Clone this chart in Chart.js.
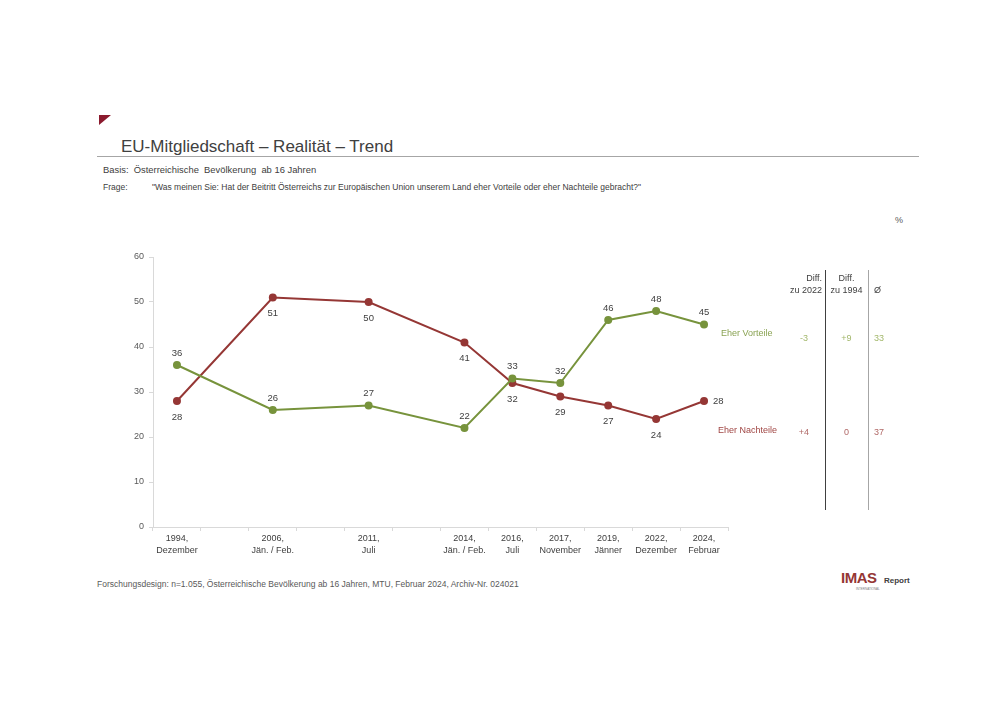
<!DOCTYPE html>
<html lang="de">
<head>
<meta charset="utf-8">
<title>EU-Mitgliedschaft – Realität – Trend</title>
<script src="https://cdn.jsdelivr.net/npm/chart.js@4.4.1/dist/chart.umd.min.js"></script>
<style>
  body { margin: 0; background: #fff; font-family: "Liberation Sans", Arial, sans-serif; color: #404040; }
  .page { position: relative; width: 1000px; height: 707px; overflow: hidden; }
  .abs { position: absolute; white-space: nowrap; }
  #chartBox { position: absolute; left: 100px; top: 241px; width: 640px; height: 329px; }
</style>
</head>
<body>
<div class="page">
  <!-- header -->
  <div class="abs" style="left:99px;top:115px;width:0;height:0;border-top:10px solid #8b1a2e;border-right:12px solid transparent;"></div>
  <div class="abs" style="left:121px;top:137px;font-size:17px;color:#404040;">EU-Mitgliedschaft – Realität – Trend</div>
  <div class="abs" style="left:97px;top:156px;width:822px;height:1px;background:#a6a6a6;"></div>
  <div class="abs" style="left:103px;top:164px;font-size:9.4px;color:#404040;">Basis:&nbsp; Österreichische&nbsp; Bevölkerung&nbsp; ab 16 Jahren</div>
  <div class="abs" style="left:103px;top:182px;font-size:8.5px;color:#404040;">Frage:</div>
  <div class="abs" style="left:152px;top:182px;font-size:8.5px;color:#404040;">"Was meinen Sie: Hat der Beitritt Österreichs zur Europäischen Union unserem Land eher Vorteile oder eher Nachteile gebracht?"</div>
  <div class="abs" style="left:895px;top:215px;font-size:9px;color:#595959;">%</div>

  <div id="chartBox"><canvas id="trendChart"></canvas></div>

  <!-- series names -->
  <div class="abs" style="left:721px;top:328px;font-size:9px;color:#8aa353;">Eher Vorteile</div>
  <div class="abs" style="left:718px;top:425px;font-size:9px;color:#a04644;">Eher Nachteile</div>

  <!-- side table -->
  <div class="abs" style="left:825px;top:270px;width:1px;height:240px;background:#404040;"></div>
  <div class="abs" style="left:868px;top:270px;width:1px;height:240px;background:#a6a6a6;"></div>
  <div id="sideTable"></div>

  <!-- footer -->
  <div class="abs" style="left:97px;top:579px;font-size:8.5px;color:#595959;">Forschungsdesign: n=1.055, Österreichische Bevölkerung ab 16 Jahren, MTU, Februar 2024, Archiv-Nr. 024021</div>
  <div class="abs" style="left:841px;top:569px;font-size:15px;font-weight:bold;color:#953735;letter-spacing:-0.5px;">IMAS</div>
  <div class="abs" style="left:884px;top:576px;font-size:8px;font-weight:bold;color:#404040;">Report</div>
  <div class="abs" style="left:856px;top:587px;font-size:3px;color:#808080;">INTERNATIONAL</div>
</div>

<script>
const categories = [
  ['1994,', 'Dezember'], '', ['2006,', 'Jän. / Feb.'], '', ['2011,', 'Juli'], '',
  ['2014,', 'Jän. / Feb.'], ['2016,', 'Juli'], ['2017,', 'November'],
  ['2019,', 'Jänner'], ['2022,', 'Dezember'], ['2024,', 'Februar']
];
const vorteile  = [36, null, 26, null, 27, null, 22, 33, 32, 46, 48, 45];
const nachteile = [28, null, 51, null, 50, null, 41, 32, 29, 27, 24, 28];
const vorteileLabelPos  = ['top', null, 'top', null, 'top', null, 'top', 'top', 'top', 'top', 'top', 'top'];
const nachteileLabelPos = ['bottom', null, 'bottom', null, 'bottom', null, 'bottom', 'bottom', 'bottom', 'bottom', 'bottom', 'right'];

const tableHeaders = [['Diff.', 'zu 2022'], ['Diff.', 'zu 1994'], ['', 'Ø']];
const vorteileSide  = ['-3', '+9', '33'];
const nachteileSide = ['+4', '0', '37'];

const green = '#77933c';
const red = '#953735';

// side table
const side = document.getElementById('sideTable');
const colX = [[772, 822, 'right'], [827, 866, 'center'], [874, 900, 'left']];
function addText(txt, x, w, align, top, color) {
  const d = document.createElement('div');
  d.className = 'abs';
  d.style.cssText = `left:${x}px;top:${top}px;width:${w}px;text-align:${align};font-size:9px;color:${color};`;
  d.textContent = txt;
  side.appendChild(d);
}
tableHeaders.forEach((h, i) => {
  const [x1, x2, align] = colX[i];
  addText(h[0], x1, x2 - x1, align, 273, '#404040');
  addText(h[1], x1, x2 - x1, align, 285, '#404040');
});
vorteileSide.forEach((v, i) => {
  const [x1, x2] = colX[i];
  addText(v, i === 0 ? 790 : x1, i === 0 ? 28 : x2 - x1, i === 2 ? 'left' : 'center', 333, '#a3b86c');
});
nachteileSide.forEach((v, i) => {
  const [x1, x2] = colX[i];
  addText(v, i === 0 ? 790 : x1, i === 0 ? 28 : x2 - x1, i === 2 ? 'left' : 'center', 427, '#b06866');
});

// value labels next to points
const pointLabels = {
  id: 'pointLabels',
  afterDatasetsDraw(chart) {
    const ctx = chart.ctx;
    ctx.save();
    ctx.font = '9.5px "Liberation Sans", Arial, sans-serif';
    ctx.fillStyle = '#404040';
    chart.data.datasets.forEach((ds, di) => {
      const meta = chart.getDatasetMeta(di);
      meta.data.forEach((pt, i) => {
        const v = ds.data[i];
        if (v === null) return;
        const pos = ds.labelPos[i];
        let x = pt.x, y = pt.y;
        ctx.textAlign = 'center';
        ctx.textBaseline = 'middle';
        if (pos === 'top') y -= 12;
        else if (pos === 'bottom') y += 16;
        else { x += 9; ctx.textAlign = 'left'; }
        ctx.fillText(String(v), x, y);
      });
    });
    ctx.restore();
  }
};

new Chart(document.getElementById('trendChart'), {
  type: 'line',
  data: {
    labels: categories,
    datasets: [
      {
        label: 'Eher Vorteile',
        data: vorteile,
        labelPos: vorteileLabelPos,
        borderColor: green,
        backgroundColor: green,
        borderWidth: 2,
        pointRadius: 3,
        pointHoverRadius: 3,
        spanGaps: true,
        tension: 0
      },
      {
        label: 'Eher Nachteile',
        data: nachteile,
        labelPos: nachteileLabelPos,
        borderColor: red,
        backgroundColor: red,
        borderWidth: 2,
        pointRadius: 3,
        pointHoverRadius: 3,
        spanGaps: true,
        tension: 0
      }
    ]
  },
  options: {
    responsive: true,
    maintainAspectRatio: false,
    animation: false,
    layout: { padding: { left: 0, right: 12, top: 16, bottom: 0 } },
    plugins: {
      legend: { display: false },
      tooltip: { enabled: false }
    },
    scales: {
      x: {
        offset: true,
        grid: { offset: true, drawOnChartArea: false, drawTicks: true, tickLength: 4, color: '#d9d9d9' },
        border: { color: '#d9d9d9' },
        ticks: {
          autoSkip: false,
          maxRotation: 0,
          padding: 2,
          color: '#404040',
          font: { size: 9, family: '"Liberation Sans", Arial, sans-serif', lineHeight: 1.3 }
        },
        afterFit(scale) { scale.height = 43; }
      },
      y: {
        min: 0,
        max: 60,
        ticks: {
          stepSize: 10,
          padding: 5,
          color: '#595959',
          font: { size: 9, family: '"Liberation Sans", Arial, sans-serif' }
        },
        grid: { drawOnChartArea: false, drawTicks: true, tickLength: 4, color: '#d9d9d9' },
        border: { color: '#d9d9d9' },
        afterFit(scale) { scale.width = 53; }
      }
    }
  },
  plugins: [pointLabels]
});
</script>
</body>
</html>
